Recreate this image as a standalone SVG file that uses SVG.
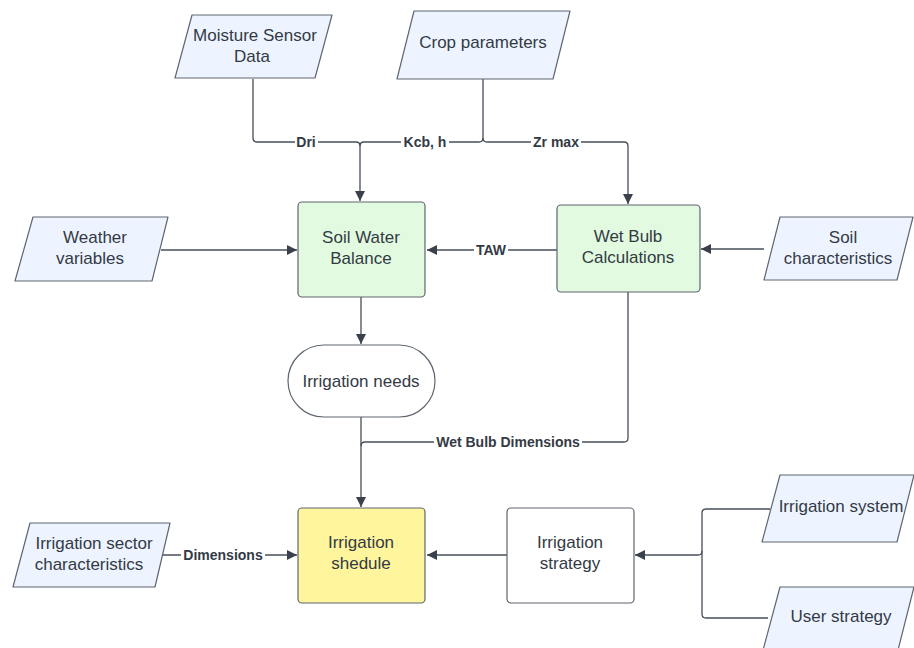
<svg xmlns="http://www.w3.org/2000/svg" width="914" height="648" viewBox="0 0 914 648">
<defs>
<marker id="arr" viewBox="0 0 10 10" refX="10" refY="5" markerWidth="10" markerHeight="10" markerUnits="userSpaceOnUse" orient="auto">
<path d="M0,0 L10,5 L0,10 z" fill="#3a414c"/>
</marker>
<style>
.io{fill:#edf4ff;stroke:#5e6670;stroke-width:1.2;stroke-linejoin:round}
.proc{fill:#e2fadf;stroke:#5e6670;stroke-width:1.2}
.sched{fill:#fff59d;stroke:#5e6670;stroke-width:1.2}
.plain{fill:#ffffff;stroke:#5e6670;stroke-width:1.2}
.t{font-family:"Liberation Sans",Arial,sans-serif;font-size:17px;fill:#333a45;text-anchor:middle}
.c{fill:none;stroke:#474f5a;stroke-width:1.3}
.lbl{font-family:"Liberation Sans",Arial,sans-serif;font-size:14px;font-weight:bold;fill:#333a45;text-anchor:middle}
.bg{fill:#ffffff}
</style>
</defs>
<rect width="914" height="648" fill="#ffffff"/>

<g id="connectors">
<path class="c" d="M253,79 V138 Q253,142 257,142 H356 Q360,142 360,146 V201" marker-end="url(#arr)"/>
<path class="c" d="M483,79 V138 Q483,142 479,142 H364 Q360,142 360,146"/>
<path class="c" d="M483,138 Q483,142 487,142 H624 Q628,142 628,146 V204" marker-end="url(#arr)"/>
<path class="c" d="M161,250 H297" marker-end="url(#arr)"/>
<path class="c" d="M557,250 H427" marker-end="url(#arr)"/>
<path class="c" d="M764,249 H701" marker-end="url(#arr)"/>
<path class="c" d="M361,297 V344" marker-end="url(#arr)"/>
<path class="c" d="M361,417 V507" marker-end="url(#arr)"/>
<path class="c" d="M628,292 V438 Q628,442 624,442 H365 Q361,442 361,446"/>
<path class="c" d="M163,555 H297" marker-end="url(#arr)"/>
<path class="c" d="M507,555 H427" marker-end="url(#arr)"/>
<path class="c" d="M770,509 H706 Q702,509 702,513 V614 Q702,618 706,618 H768"/>
<path class="c" d="M702,551 Q702,555 698,555 H635" marker-end="url(#arr)"/>
<rect class="bg" x="295" y="134" width="23" height="16"/>
<text class="lbl" x="306" y="147">Dri</text>
<rect class="bg" x="401" y="134" width="48" height="16"/>
<text class="lbl" x="425" y="147">Kcb, h</text>
<rect class="bg" x="531" y="134" width="50" height="16"/>
<text class="lbl" x="556" y="147">Zr max</text>
<rect class="bg" x="474" y="242" width="34" height="16"/>
<text class="lbl" x="491" y="255">TAW</text>
<rect class="bg" x="434" y="434" width="148" height="16"/>
<text class="lbl" x="508" y="447">Wet Bulb Dimensions</text>
<rect class="bg" x="181" y="547" width="84" height="16"/>
<text class="lbl" x="223" y="560">Dimensions</text>
</g>

<g id="moisture">
<path class="io" d="M192,15 H332 L315,78 H175 Z"/>
<text class="t" x="255" y="41">Moisture Sensor</text>
<text class="t" x="252" y="62">Data</text>
</g>
<g id="crop">
<path class="io" d="M414,11 H570 L553,79 H397 Z"/>
<text class="t" x="483" y="48">Crop parameters</text>
</g>
<g id="weather">
<path class="io" d="M33,217 H168 L152,281 H15 Z"/>
<text class="t" x="95" y="243">Weather</text>
<text class="t" x="90" y="264">variables</text>
</g>
<g id="swb">
<rect class="proc" x="298" y="202" width="127" height="95" rx="4"/>
<text class="t" x="361" y="243">Soil Water</text>
<text class="t" x="361" y="264">Balance</text>
</g>
<g id="wetbulb">
<rect class="proc" x="557" y="205" width="143" height="87" rx="4"/>
<text class="t" x="628" y="242">Wet Bulb</text>
<text class="t" x="628" y="263">Calculations</text>
</g>
<g id="soil">
<path class="io" d="M780,217 H913 L897,280 H764 Z"/>
<text class="t" x="843" y="243">Soil</text>
<text class="t" x="838" y="264">characteristics</text>
</g>
<g id="needs">
<rect class="plain" x="288" y="345" width="147" height="72" rx="36"/>
<text class="t" x="361" y="387">Irrigation needs</text>
</g>
<g id="schedule">
<rect class="sched" x="298" y="508" width="127" height="95" rx="4"/>
<text class="t" x="361" y="548">Irrigation</text>
<text class="t" x="361" y="569">shedule</text>
</g>
<g id="sector">
<path class="io" d="M30,523 H170 L155,587 H13 Z"/>
<text class="t" x="94" y="549">Irrigation sector</text>
<text class="t" x="89" y="570">characteristics</text>
</g>
<g id="strategy">
<rect class="plain" x="507" y="508" width="127" height="95" rx="4"/>
<text class="t" x="570" y="548">Irrigation</text>
<text class="t" x="570" y="569">strategy</text>
</g>
<g id="irrsystem">
<path class="io" d="M780,475 H914 L897,542 H762 Z"/>
<text class="t" x="841" y="512">Irrigation system</text>
</g>
<g id="user">
<path class="io" d="M780,587 H914 L897,654 H762 Z"/>
<text class="t" x="841" y="622">User strategy</text>
</g>
</svg>
